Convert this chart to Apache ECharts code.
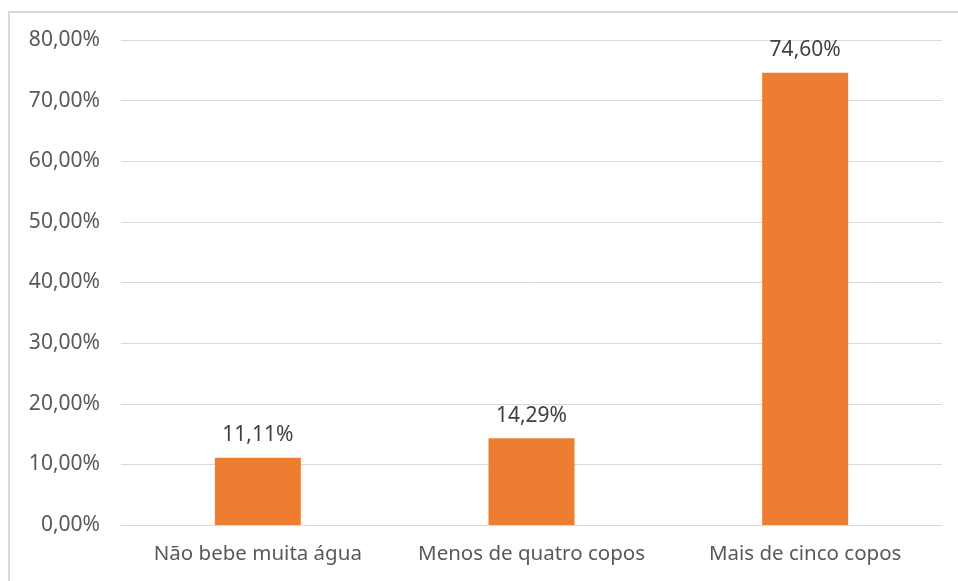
<!DOCTYPE html>
<html>
<head>
<meta charset="utf-8">
<script src="https://cdn.jsdelivr.net/npm/echarts@6/dist/echarts.min.js"></script>
<style>
  html, body {margin: 0; padding: 0; background: #fff;}
  .frame {position: absolute; left: 8px; top: 11px; width: 1000px; height: 700px;
    border-top: 2px solid #d9d9d9; border-left: 2px solid #d9d9d9; box-sizing: border-box;}
  #chart {position: absolute; left: 0; top: 0; width: 958px; height: 581px;}
</style>
</head>
<body>
<div class="frame"></div>
<div id="chart"></div>
<script>
const categories = ['Não bebe muita água', 'Menos de quatro copos', 'Mais de cinco copos'];
const values = [11.11, 14.29, 74.60];
const yTicks = {min: 0, max: 80, interval: 10};

const pct = v => v.toFixed(2).replace('.', ',') + '%';
const font = '"Noto Sans", "Open Sans", sans-serif';

const myChart = echarts.init(document.getElementById('chart'));
myChart.setOption({
  animation: false,
  grid: {left: 121, right: 16, top: 40, bottom: 56},
  xAxis: {
    type: 'category',
    data: categories,
    axisLine: {lineStyle: {color: '#d9d9d9', width: 1}},
    axisTick: {show: false},
    axisLabel: {color: '#595959', fontSize: 20.5, fontFamily: font, margin: 19,
      interval: 0, hideOverlap: false}
  },
  yAxis: {
    type: 'value',
    min: yTicks.min, max: yTicks.max, interval: yTicks.interval,
    axisLine: {show: false},
    axisTick: {show: false},
    splitLine: {lineStyle: {color: '#d9d9d9', width: 1}},
    axisLabel: {color: '#595959', fontSize: 21, fontFamily: font, margin: 21, formatter: pct}
  },
  series: [{
    type: 'bar',
    data: values,
    barWidth: 86,
    itemStyle: {color: '#ED7D31'},
    label: {
      show: true, position: 'top', distance: 12,
      color: '#404040', fontSize: 21, fontFamily: font,
      formatter: p => pct(p.value)
    }
  }]
});
</script>
</body>
</html>
